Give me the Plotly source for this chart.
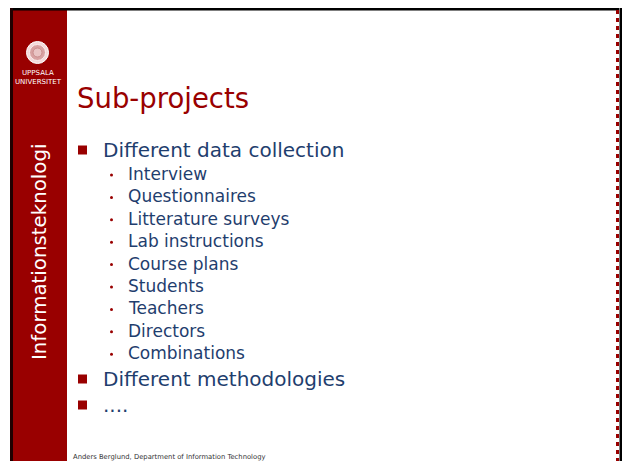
import plotly.graph_objects as go

# ---- slide content ----
title_text = "Sub-projects"
sidebar_text = "Informationsteknologi"
logo_lines = ["UPPSALA", "UNIVERSITET"]
level1_items = ["Different data collection", "Different methodologies", "...."]
level2_items = ["Interview", "Questionnaires", "Litterature surveys", "Lab instructions",
                "Course plans", "Students", "Teachers", "Directors", "Combinations"]
footer_text = "Anders Berglund, Department of Information Technology"

W, H = 622, 461
RED = "#990000"
BLUE = "#1F3E6E"
FONT = "DejaVu Sans"

fig = go.Figure()
shapes = []
ann = []

# frame
shapes.append(dict(type="rect", x0=13, x1=67, y0=10, y1=H, fillcolor=RED, line_width=0, layer="below"))
shapes.append(dict(type="rect", x0=10, x1=619, y0=8, y1=10.5, fillcolor="black", line_width=0))
shapes.append(dict(type="rect", x0=10, x1=13, y0=8, y1=H, fillcolor="#200000", line_width=0))
shapes.append(dict(type="line", x0=617.5, x1=617.5, y0=10, y1=H, line=dict(color=RED, width=3, dash="4px,4px")))
shapes.append(dict(type="rect", x0=619.5, x1=622, y0=8, y1=H, fillcolor="black", line_width=0))

# logo seal
shapes.append(dict(type="circle", x0=26.5, x1=48.5, y0=41.5, y1=63.5, fillcolor="#F4DADA", line=dict(color="white", width=1)))
shapes.append(dict(type="circle", x0=29.5, x1=45.5, y0=44.5, y1=60.5, fillcolor="#D8A2A2", line=dict(color="#FBEEEE", width=1)))
shapes.append(dict(type="circle", x0=33, x1=42, y0=48, y1=57, fillcolor="#E9C4C4", line=dict(color="#C98C8C", width=1)))
for i, t in enumerate(logo_lines):
    ann.append(dict(x=38, y=73 + i * 9, text=t, showarrow=False, xanchor="center", yanchor="middle",
                    font=dict(family=FONT, size=7, color="white")))

# sidebar vertical text
ann.append(dict(x=39, y=252, text=sidebar_text, textangle=-90, showarrow=False,
                xanchor="center", yanchor="middle",
                font=dict(family=FONT, size=19.8, color="white")))

# title
ann.append(dict(x=75, y=98, text=title_text, showarrow=False, xanchor="left", yanchor="middle",
                font=dict(family=FONT, size=27.5, color=RED)))

# level 1 bullets
l1_y = [150, 379, 405]
for t, y in zip(level1_items, l1_y):
    shapes.append(dict(type="rect", x0=78, x1=87, y0=y - 4.5, y1=y + 4.5, fillcolor=RED, line_width=0))
    ann.append(dict(x=101, y=y, text=t, showarrow=False, xanchor="left", yanchor="middle",
                    font=dict(family=FONT, size=20, color=BLUE)))

# level 2 bullets
y0, dy = 174, 22.4
for i, t in enumerate(level2_items):
    y = y0 + i * dy
    shapes.append(dict(type="circle", x0=110, x1=113, y0=y - 0.5, y1=y + 2.5, fillcolor=RED, line_width=0))
    ann.append(dict(x=126, y=y, text=t, showarrow=False, xanchor="left", yanchor="middle",
                    font=dict(family=FONT, size=17, color=BLUE)))

# footer
ann.append(dict(x=71, y=457, text=footer_text, showarrow=False, xanchor="left", yanchor="middle",
                font=dict(family=FONT, size=6.8, color="#333333")))

fig.update_layout(
    width=W, height=H, margin=dict(l=0, r=0, t=0, b=0),
    paper_bgcolor="white", plot_bgcolor="white",
    xaxis=dict(range=[0, W], visible=False, fixedrange=True),
    yaxis=dict(range=[H, 0], visible=False, fixedrange=True),
    shapes=shapes, annotations=ann, showlegend=False,
)
fig.write_html("out.html", config={"displayModeBar": False},
               post_script="document.body.style.margin='0';document.body.style.overflow='hidden';")
